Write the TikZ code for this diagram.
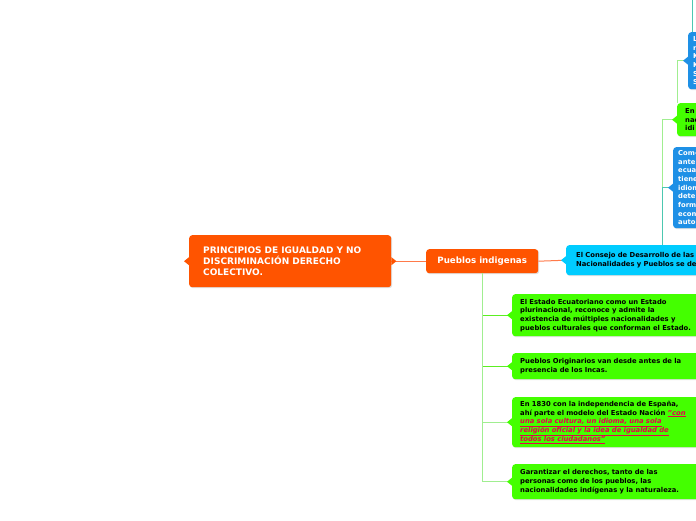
\documentclass[tikz,border=0pt]{standalone}
\usepackage{fontspec}
\setmainfont{DejaVu Sans}
\usetikzlibrary{shadows}

\definecolor{mmorange}{HTML}{FF5400}
\definecolor{mmcyan}{HTML}{00CCFF}
\definecolor{mmgreen}{HTML}{44FF00}
\definecolor{mmblue}{HTML}{1E90E6}
\definecolor{mmred}{HTML}{E6004C}
\definecolor{lineorange}{HTML}{FF7A4A}
\definecolor{linegreen}{HTML}{5CEE22}
\definecolor{linelight}{HTML}{A0EE90}
\definecolor{lineteal}{HTML}{4CC8B0}

\newcommand{\notch}[2]{\fill[#1] ([yshift=4pt]#2.west) -- ++(-5pt,-4pt) -- ++(5pt,-4pt) -- cycle;}
\newcommand{\redul}[1]{\textcolor{mmred}{\underline{\itshape #1}}}

\begin{document}
\begin{tikzpicture}[x=1pt,y=-1pt,
	box/.style={rounded corners=3pt, anchor=north west, align=left, inner ysep=0pt,
		drop shadow={shadow xshift=1pt, shadow yshift=-1pt, opacity=0.25},
		font=\bfseries\fontsize{6.8}{8.7}\selectfont},
	greenbox/.style={box, fill=mmgreen, text=black, text width=200pt, inner xsep=8pt},
	bluebox/.style={box, fill=mmblue, text=white, text width=60pt},
	link/.style={line width=1pt}]
	\clip (0,0) rectangle (696,520);
	\fill[white] (0,0) rectangle (696,520);

	% main topics
	\node[box, fill=mmorange, text=white, text width=174pt, inner xsep=14pt, minimum height=52pt,
		font=\bfseries\fontsize{9}{10.8}\selectfont] (root) at (189,235)
		{PRINCIPIOS DE IGUALDAD Y NO\\DISCRIMINACIÓN DERECHO\\COLECTIVO.};
	\node[box, fill=mmorange, text=white, align=center, minimum width=112pt, minimum height=24pt,
		font=\bfseries\fontsize{8.7}{10}\selectfont] (pueblos) at (426,249) {Pueblos indigenas};
	\node[box, fill=mmcyan, text=black, text width=200pt, inner xsep=10pt, minimum height=30pt] (consejo) at (566,245)
		{El Consejo de Desarrollo de las\\Nacionalidades y Pueblos se de};

	% right column (cut by the edge)
	\node[greenbox, minimum height=33pt] (en) at (677,103) {En\\nac\\idi};
	\node[bluebox, inner xsep=5pt, minimum height=81pt] (com) at (673,147)
		{Com-\\ante\\ecua\\tiene\\idiom\\dete\\form\\econ\\auto};
	\node[bluebox, inner xsep=5pt, minimum height=57pt] (lbox) at (688,32) {L\\r\\K\\K\\S\\S};

	% subtopics
	\node[greenbox, minimum height=42pt] (g1) at (512,294)
		{El Estado Ecuatoriano como un Estado\\plurinacional, reconoce y admite la\\existencia de múltiples nacionalidades y\\pueblos culturales que conforman el Estado.};
	\node[greenbox, minimum height=26pt] (g2) at (512,353)
		{Pueblos Originarios van desde antes de la\\presencia de los Incas.};
	\node[greenbox, minimum height=50pt] (g3) at (512,397)
		{En 1830 con la independencia de España,\\ahí parte el modelo del Estado Nación \redul{"con}\\\redul{una sola cultura, un idioma, una sola}\\\redul{religión oficial y la idea de igualdad de}\\\redul{todos los ciudadanos"}};
	\node[greenbox, minimum height=35pt] (g4) at (512,464)
		{Garantizar el derechos, tanto de las\\personas como de los pueblos, las\\nacionalidades indígenas y la naturaleza.};

	% connectors
	\draw[link, lineorange] (root.east) -- (pueblos.west);
	\draw[link, lineorange] (pueblos.east) -- (consejo.west);
	\draw[link, linegreen] (pueblos.south) |- (g1.west);
	\draw[link, linegreen] (pueblos.south) |- (g2.west);
	\draw[link, linelight] (pueblos.south) |- (g3.west);
	\draw[link, linelight] (pueblos.south) |- (g4.west);
	\coordinate (fork) at (662,245);
	\draw[link, linelight] (fork) |- (en.west);
	\draw[link, lineteal] (fork) |- (com.west);
	\coordinate (kink) at (677,103);
	\draw[link, linelight] (kink) |- (lbox.west);
	\coordinate (top) at (692,0);
	\draw[link, lineteal] (top) -- (top |- lbox.north);

	% notches
	\notch{mmorange}{root}
	\fill[mmorange] ([yshift=4pt]root.east) -- ++(5pt,-4pt) -- ++(-5pt,-4pt) -- cycle;
	\notch{mmcyan}{consejo}
	\notch{mmgreen}{en}
	\notch{mmblue}{com}
	\notch{mmblue}{lbox}
	\notch{mmgreen}{g1}
	\notch{mmgreen}{g2}
	\notch{mmgreen}{g3}
	\notch{mmgreen}{g4}
\end{tikzpicture}
\end{document}
